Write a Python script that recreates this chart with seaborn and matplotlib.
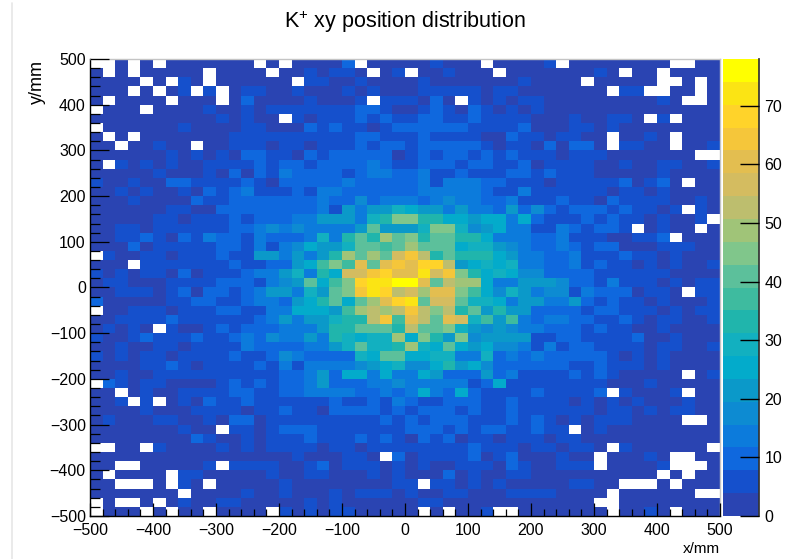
import numpy as np
import pandas as pd
import matplotlib
matplotlib.use('Agg')
import matplotlib.pyplot as plt
from matplotlib.colors import ListedColormap
from matplotlib.lines import Line2D
from matplotlib.ticker import FixedLocator
import seaborn as sns

# counts per 20 mm bin, top row (y = 480..500) first, x from -500 to 500
row_00 = [0,0,2,0,2,0,2,2,2,2,2,2,2,0,2,0,2,2,2,2,8,0,2,2,2, 2,2,7,2,2,2,0,2,2,2,2,6,0,2,2,2,2,2,2,2,2,0,0,2,2]
row_01 = [2,0,2,0,2,2,2,2,2,0,2,2,2,2,0,2,2,6,2,6,6,2,0,2,6, 0,2,2,6,2,2,2,0,2,2,2,2,2,2,2,6,2,0,2,2,0,2,2,2,2]
row_02 = [2,2,2,2,0,2,0,6,2,0,2,2,2,2,2,2,0,6,6,2,2,6,2,2,2, 2,5,2,2,2,2,2,2,2,6,2,2,2,2,0,2,2,2,2,2,0,0,2,0,2]
row_03 = [2,2,2,0,2,0,2,6,0,6,0,2,6,6,2,2,6,2,2,2,6,2,6,2,2, 2,5,5,5,5,5,2,5,5,2,2,2,2,2,2,2,0,6,6,0,0,2,2,0,2]
row_04 = [2,0,2,2,2,2,0,2,2,2,0,2,9,2,2,2,2,6,2,2,2,6,0,6,6, 5,2,8,2,0,5,2,5,2,5,5,2,2,2,2,2,2,2,2,2,6,2,0,0,2]
row_05 = [0,2,2,2,0,2,2,2,2,6,2,2,6,2,6,6,6,6,6,6,6,8,8,6,2, 2,5,8,5,2,8,5,2,5,2,6,2,2,2,2,2,2,2,2,2,2,2,2,2,2]
row_06 = [2,2,2,2,2,2,2,2,2,2,6,2,6,2,2,0,6,2,6,6,6,8,6,8,6, 5,10,8,5,5,8,5,5,5,5,2,2,2,5,2,2,5,5,2,0,6,0,2,2,2]
row_07 = [0,2,2,2,2,2,2,6,2,2,2,2,6,6,2,2,2,8,6,8,6,6,2,6,10, 9,8,8,8,8,5,5,5,5,8,2,2,2,5,5,2,5,2,2,2,2,2,2,2,2]
row_08 = [2,0,2,0,2,2,2,2,2,2,2,6,6,6,6,6,6,6,6,6,6,8,8,6,6, 5,8,5,5,5,5,2,2,8,5,5,2,5,5,2,2,0,2,2,5,2,0,2,2,2]
row_09 = [2,2,0,2,2,6,2,2,0,2,2,6,6,6,2,6,6,2,6,6,6,8,6,8,8, 7,8,8,11,8,8,5,2,5,5,2,10,2,8,8,2,0,6,6,2,2,0,2,2,6]
row_10 = [2,2,2,2,2,2,6,2,6,2,6,2,8,9,6,6,2,8,6,8,10,8,8,10,2, 5,11,5,8,8,5,8,5,8,5,5,5,2,5,5,5,2,2,2,2,2,2,2,0,0]
row_11 = [2,0,6,2,6,2,6,2,2,6,6,6,6,9,6,8,8,6,8,8,9,9,12,10,6, 6,8,10,10,5,10,10,7,5,10,2,5,5,5,5,2,2,6,2,2,6,6,2,2,6]
row_12 = [2,2,2,2,2,6,2,2,2,6,2,9,2,11,6,12,9,8,9,8,7,10,14,12,10, 9,12,6,6,9,5,5,5,8,10,5,10,5,5,5,2,2,2,2,2,5,2,2,2,2]
row_13 = [6,2,2,6,2,2,8,8,6,6,6,6,11,6,2,8,8,8,8,11,12,8,9,10,10, 8,12,7,15,13,13,10,10,7,7,5,2,5,5,5,5,5,8,2,5,8,2,0,2,2]
row_14 = [2,2,6,2,6,2,2,6,2,11,6,8,12,6,7,6,9,7,12,14,9,9,9,10,10, 10,12,12,12,12,13,10,7,5,13,5,5,5,7,5,5,2,5,5,2,5,2,2,2,2]
row_15 = [2,2,2,6,2,2,2,2,8,6,6,9,9,9,9,9,10,10,15,8,11,19,8,14,14, 14,10,15,18,15,15,10,8,14,7,7,7,10,5,7,2,8,5,5,5,5,2,2,5,2]
row_16 = [2,2,2,2,2,2,5,5,2,2,8,10,10,10,10,8,9,9,12,6,20,15,22,22,30, 26,22,22,14,22,14,14,10,22,8,18,8,5,8,8,8,5,8,5,5,2,5,0,5,2]
row_17 = [2,2,2,2,2,5,5,2,5,5,5,8,5,11,11,11,13,13,22,22,22,12,30,34,44, 44,33,33,24,26,22,26,26,13,24,8,7,7,7,9,5,8,5,7,2,5,2,2,5,0]
row_18 = [2,2,6,6,2,5,5,5,5,5,5,8,11,14,17,12,16,12,15,12,14,20,42,22,22, 22,30,46,46,30,16,22,26,13,13,7,7,12,8,5,10,8,5,0,2,5,2,2,0,2]
row_19 = [2,2,6,5,8,5,2,8,5,12,8,10,7,13,8,11,11,13,30,15,35,40,34,48,42, 44,32,40,40,34,34,24,15,14,13,11,10,14,6,6,5,2,2,5,5,8,0,2,2,2]
row_20 = [2,2,2,9,2,5,5,7,7,5,11,8,5,13,6,15,18,25,20,20,28,40,42,38,42, 50,42,40,40,24,30,30,22,17,15,11,9,13,10,6,8,8,2,2,2,5,5,5,2,2]
row_21 = [0,6,2,2,5,5,2,6,7,7,9,7,7,20,22,15,22,14,22,34,50,42,50,40,58, 66,54,32,42,33,33,33,24,22,15,14,11,9,13,5,6,6,8,6,6,2,6,2,2,2]
row_22 = [2,2,2,0,7,7,7,5,5,6,5,9,6,6,11,11,20,26,38,44,38,62,42,60,66, 62,68,68,54,22,24,28,24,30,14,12,9,10,13,7,11,6,6,2,5,2,7,2,2,6]
row_23 = [6,2,6,2,5,5,2,11,2,7,6,6,9,12,12,20,30,14,32,26,58,58,66,70,60, 60,72,56,66,44,32,24,30,24,18,18,8,11,8,8,5,6,5,5,5,5,2,2,2,2]
row_24 = [2,6,6,2,2,2,5,5,7,7,10,10,11,7,12,18,22,40,26,38,46,70,74,72,78, 78,60,42,54,48,48,24,15,15,23,22,22,16,11,8,5,13,6,6,5,2,5,2,6,6]
row_25 = [2,2,6,6,6,2,5,8,2,8,10,7,11,13,20,20,14,30,22,40,46,66,72,68,52, 56,50,62,62,44,38,24,18,28,20,13,16,16,6,13,10,9,9,2,5,6,2,0,6,6]
row_26 = [8,2,2,2,2,2,6,6,8,8,7,7,10,15,13,11,22,24,33,40,24,42,48,60,68, 72,42,56,56,42,30,30,24,14,23,23,12,15,20,8,6,9,6,6,2,6,2,2,2,6]
row_27 = [0,2,2,6,6,6,2,6,7,7,10,10,7,6,15,12,24,24,24,22,36,48,54,48,54, 66,54,44,54,32,40,22,33,22,22,10,10,10,10,6,8,8,6,6,6,2,6,2,6,6]
row_28 = [2,2,6,6,6,6,8,5,6,6,5,7,6,9,15,22,13,22,22,30,32,32,54,66,36, 60,54,42,60,56,30,36,22,36,14,8,14,14,8,8,6,6,8,6,2,6,6,2,2,6]
row_29 = [2,6,2,6,2,0,6,2,2,7,9,7,9,9,8,15,12,14,22,32,32,42,42,42,32, 52,42,42,44,28,22,16,22,16,13,13,10,10,11,6,8,6,6,2,2,6,2,2,2,2]
row_30 = [6,2,2,6,8,5,5,5,11,7,7,9,14,9,18,12,15,22,14,32,30,24,30,30,48, 26,44,32,22,46,16,22,22,23,23,6,6,10,8,6,6,6,6,9,2,2,6,2,2,2]
row_31 = [2,2,6,2,2,5,5,2,5,5,7,7,13,11,9,9,11,15,15,22,30,42,30,30,32, 50,30,26,40,24,22,24,16,16,14,6,12,7,8,8,6,6,6,7,2,6,6,2,2,6]
row_32 = [6,2,6,2,6,5,2,5,5,5,5,10,5,7,10,18,13,8,11,11,10,30,24,42,42, 24,24,28,28,15,13,30,9,13,10,12,10,11,8,8,8,6,2,6,2,6,2,2,2,2]
row_33 = [2,2,2,2,6,5,8,5,2,7,7,7,7,9,6,14,7,13,13,12,12,17,22,24,30, 17,17,26,32,22,24,18,11,11,11,11,11,8,6,6,8,6,6,6,2,6,2,2,2,2]
row_34 = [2,2,6,2,2,5,5,5,5,7,5,5,5,7,6,11,11,13,20,8,26,26,13,26,15, 15,24,22,8,8,11,22,9,14,7,5,7,5,8,5,9,6,2,2,2,2,2,0,2,6]
row_35 = [0,8,6,2,6,5,2,2,2,2,6,10,5,11,5,11,11,12,20,9,9,9,12,13,16, 12,15,12,12,14,7,8,24,6,5,7,7,7,5,7,5,2,2,2,5,2,2,2,2,2]
row_36 = [2,2,0,2,6,2,2,6,6,5,6,8,10,5,5,8,8,14,14,14,13,10,10,13,9, 12,24,13,8,24,10,6,6,7,5,8,5,5,7,5,8,0,5,2,2,2,6,0,2,2]
row_37 = [2,2,6,0,6,0,2,6,2,8,5,6,8,5,6,7,7,5,5,11,7,7,10,7,14, 9,7,7,9,9,9,7,7,10,7,7,7,7,2,5,2,6,2,5,2,2,2,5,2,2]
row_38 = [2,2,2,2,6,2,2,2,5,5,5,7,2,6,6,11,5,6,2,8,11,8,8,5,8, 6,10,10,10,7,10,7,5,10,5,7,5,5,5,5,2,5,5,2,5,2,6,5,2,2]
row_39 = [2,6,2,2,2,5,5,2,2,5,2,8,8,2,5,6,6,7,7,7,7,6,5,11,7, 10,5,8,8,11,5,5,5,8,5,8,5,2,6,2,5,6,6,2,2,2,2,0,0,2]
row_40 = [2,2,2,2,2,2,2,5,2,2,0,6,6,2,6,8,8,8,7,5,5,7,7,5,5, 8,11,8,5,8,5,8,11,5,5,8,5,5,0,2,6,2,2,2,2,2,2,2,2,2]
row_41 = [2,2,2,2,2,2,2,2,8,5,2,2,6,2,6,6,6,8,5,7,5,8,5,10,5, 2,8,5,8,2,5,5,2,5,5,5,2,5,6,2,2,2,2,2,2,2,2,2,2,2]
row_42 = [0,0,2,2,0,6,2,2,2,2,6,2,6,2,6,6,6,6,2,6,6,2,5,5,5, 5,5,5,5,5,8,5,5,5,2,6,6,2,6,6,2,0,6,2,2,2,2,2,2,0]
row_43 = [2,2,2,2,2,2,2,2,2,2,2,2,2,2,2,2,6,2,2,2,5,5,2,0,8, 2,5,5,5,5,8,2,5,8,2,2,2,6,2,2,0,2,2,2,6,2,0,0,2,2]
row_44 = [2,2,0,0,2,2,2,2,2,6,0,5,5,5,5,2,2,5,8,2,5,5,5,2,6, 2,6,2,2,5,5,5,2,8,5,2,2,5,5,5,0,2,2,2,2,6,0,0,0,2]
row_45 = [2,0,2,2,2,2,0,6,6,2,2,2,2,2,6,2,2,5,5,2,2,2,6,2,6, 2,2,2,8,2,6,2,2,6,6,2,2,2,2,2,2,2,2,2,2,0,2,0,2,2]
row_46 = [2,2,0,0,0,2,0,6,2,0,2,2,2,2,2,6,2,2,2,2,2,2,2,2,6, 6,0,6,6,2,6,2,6,2,2,2,2,2,6,6,2,2,0,0,0,2,0,2,2,2]
row_47 = [2,2,2,2,2,2,2,0,2,2,2,2,6,2,2,6,2,2,2,5,2,5,5,5,2, 6,2,2,6,6,2,2,2,6,6,6,6,2,2,2,2,0,2,2,2,2,2,2,0,0]
row_48 = [0,2,0,0,2,0,2,6,2,2,5,5,2,2,2,2,2,6,2,6,2,2,2,2,2, 2,6,6,2,2,2,2,2,2,2,2,2,2,2,2,0,0,2,2,2,2,2,2,2,2]
row_49 = [0,2,2,2,0,2,0,2,2,0,2,2,2,2,0,6,2,6,2,6,6,2,2,2,2, 2,0,2,0,2,2,6,0,0,2,2,2,2,2,2,2,0,2,2,6,2,0,2,2,2]

rows = [row_00, row_01, row_02, row_03, row_04, row_05, row_06, row_07, row_08, row_09,
        row_10, row_11, row_12, row_13, row_14, row_15, row_16, row_17, row_18, row_19,
        row_20, row_21, row_22, row_23, row_24, row_25, row_26, row_27, row_28, row_29,
        row_30, row_31, row_32, row_33, row_34, row_35, row_36, row_37, row_38, row_39,
        row_40, row_41, row_42, row_43, row_44, row_45, row_46, row_47, row_48, row_49]

x_major = [-500, -400, -300, -200, -100, 0, 100, 200, 300, 400, 500]
y_major = [-500, -400, -300, -200, -100, 0, 100, 200, 300, 400, 500]
cbar_ticks = [0, 10, 20, 30, 40, 50, 60, 70]
z_max = 78

band_colors = ['#2A44B2', '#1550CC', '#0F68DE', '#0C7BDC', '#0D8BD2', '#0B99C9', '#03ABCB',
               '#12B0C0', '#20B5AC', '#3EBB9F', '#5CC09B', '#80C68B', '#A0C478', '#BDBE6E',
               '#D4BC60', '#E3BE50', '#F5C63A', '#FFD32A', '#FBE414', '#FFFF00']

sns.set_theme(style='white')
plt.rcParams['font.family'] = ['Liberation Sans', 'DejaVu Sans']
plt.rcParams['mathtext.default'] = 'regular'
plt.rcParams['text.color'] = 'black'
plt.rcParams['xtick.labelcolor'] = 'black'
plt.rcParams['ytick.labelcolor'] = 'black'

df = pd.DataFrame(rows)
W, H = 809, 559

fig = plt.figure(figsize=(W / 100, H / 100), dpi=100)
ax = fig.add_axes([90 / W, (H - 516) / H, 630 / W, 457 / H])
cax = fig.add_axes([723 / W, (H - 516) / H, 36 / W, 457 / H])

sns.heatmap(df, ax=ax, cbar_ax=cax, mask=df == 0, cmap=ListedColormap(band_colors),
            vmin=0, vmax=z_max, cbar_kws={'ticks': cbar_ticks})

lab = lambda v: str(v).replace('-', '\u2212')

ax.set_axisbelow(False)
ax.set_xticks([(v + 500) / 20 for v in x_major])
ax.set_xticklabels([lab(v) for v in x_major], rotation=0, fontsize=11.5)
ax.set_yticks([(500 - v) / 20 for v in y_major])
ax.set_yticklabels([lab(v) for v in y_major], rotation=0, fontsize=11.5, va='center_baseline')
ax.xaxis.set_minor_locator(FixedLocator(np.arange(0, 51)))
ax.yaxis.set_minor_locator(FixedLocator(np.arange(0, 51)))
ax.tick_params(axis='x', which='major', direction='in', length=9.4, width=0.9, color='black', bottom=True, pad=5)
ax.tick_params(axis='x', which='minor', direction='in', length=5, width=0.9, color='black', bottom=True)
ax.tick_params(axis='y', which='major', direction='in', length=13.5, width=0.9, color='black', left=True, pad=3)
ax.tick_params(axis='y', which='minor', direction='in', length=7, width=0.9, color='black', left=True)

for name, sp in ax.spines.items():
    sp.set_visible(True)
    sp.set_color('black' if name in ('left', 'bottom') else '#c4c4c4')
    sp.set_linewidth(1)

cax.set_axisbelow(False)
cax.tick_params(axis='y', direction='in', length=14, width=1, color='black', right=True, labelsize=11.5, pad=4)
for t in cax.get_yticklabels():
    t.set_va('center_baseline')
for name, sp in cax.spines.items():
    sp.set_visible(name == 'right')
    sp.set_color('#333333')

fig.text(405 / W, 1 - 22 / H, 'K$^{+}$ xy position distribution', ha='center', va='center', fontsize=15.5)
fig.text(37 / W, 1 - 60 / H, 'y/mm', rotation=90, ha='center', va='top', fontsize=13)
fig.text(720 / W, 1 - 549 / H, 'x/mm', ha='right', va='center', fontsize=11)
fig.add_artist(Line2D([11.5 / W, 11.5 / W], [0, 1 - 3 / H], color='#e6e6e6', linewidth=1.2))

fig.savefig('out.png', dpi=100)
